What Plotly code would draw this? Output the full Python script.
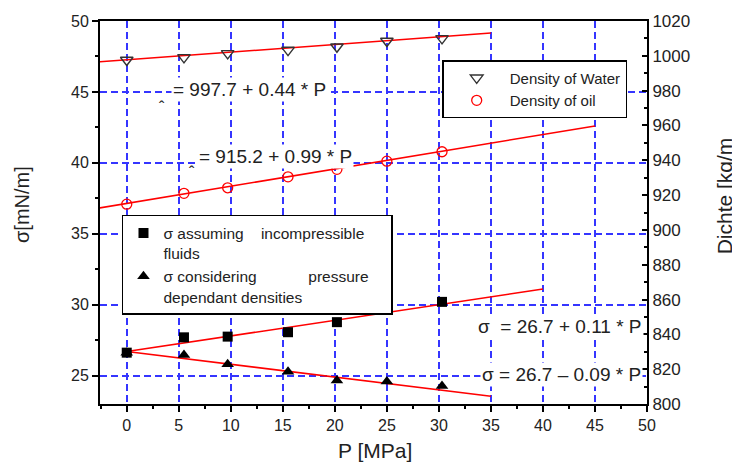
import plotly.graph_objects as go

# ---- data ----
P = [0, 5.5, 9.7, 15.5, 20.2, 25, 30.3]
rho_water = [997.6, 999.1, 1001.4, 1003.3, 1005.2, 1008.5, 1010.0]
rho_oil = [914.8, 921.0, 924.2, 930.5, 934.8, 939.5, 944.9]
P_sigma_inc = [0, 5.5, 9.7, 15.5, 20.2, 30.3]
sigma_inc = [26.62, 27.7, 27.75, 28.06, 28.77, 30.2]
sigma_pd = [26.62, 26.46, 25.8, 25.28, 24.65, 24.58, 24.27]

# fit coefficients (intercept, slope) and drawn P-ranges
fit_water = (997.7, 0.44); fit_water_P = [-3, 35]
fit_oil = (915.2, 0.99); fit_oil_P = [-3, 45]
fit_inc = (26.7, 0.11); fit_inc_P = [0, 40]
fit_pd = (26.7, -0.09); fit_pd_P = [0, 35]

x_ticks = [0, 5, 10, 15, 20, 25, 30, 35, 40, 45, 50]
y_ticks = [25, 30, 35, 40, 45, 50]
y2_ticks = [800, 820, 840, 860, 880, 900, 920, 940, 960, 980, 1000, 1020]

FONT = "Liberation Sans, Arial, sans-serif"
GRID = "#3535ff"
NB = "\u00a0"

def line_y(coef, xs):
    return [coef[0] + coef[1] * x for x in xs]

fig = go.Figure()

# fit lines
for xs, coef, ax in [(fit_water_P, fit_water, "y2"), (fit_oil_P, fit_oil, "y2"),
                     (fit_inc_P, fit_inc, "y"), (fit_pd_P, fit_pd, "y")]:
    fig.add_trace(go.Scatter(x=xs, y=line_y(coef, xs), mode="lines", yaxis=ax,
                             line=dict(color="red", width=1.5), showlegend=False,
                             hoverinfo="skip"))

# density data (right axis)
fig.add_trace(go.Scatter(x=P, y=rho_water, mode="markers", yaxis="y2",
                         name="Density of Water", legend="legend",
                         marker=dict(symbol="triangle-down-open", size=11, color="#333",
                                     line=dict(width=1.4))))
fig.add_trace(go.Scatter(x=P, y=rho_oil, mode="markers", yaxis="y2",
                         name="Density of oil", legend="legend",
                         marker=dict(symbol="circle-open", size=10, color="red",
                                     line=dict(width=1.3))))

# sigma data (left axis)
fig.add_trace(go.Scatter(x=P_sigma_inc, y=sigma_inc, mode="markers", yaxis="y",
                         name="σ assuming" + NB * 4 + "incompressible" + NB * 5 + "<br>fluids",
                         legend="legend2",
                         marker=dict(symbol="square", size=10, color="black")))
fig.add_trace(go.Scatter(x=P, y=sigma_pd, mode="markers", yaxis="y",
                         name="σ considering" + NB * 12 + "pressure<br>dependant densities",
                         legend="legend2",
                         marker=dict(symbol="triangle-up", size=11, color="black")))

ann_font = dict(family=FONT, size=19, color="#222")
annotations = [
    dict(x=11.8, y=45.2, xref="x", yref="y", text="= 997.7 + 0.44 * P",
         showarrow=False, font=ann_font, bgcolor="white"),
    dict(x=3.4, y=43.9, xref="x", yref="y", text="ˆ", showarrow=False,
         font=dict(family=FONT, size=16, color="#222")),
    dict(x=14.3, y=40.45, xref="x", yref="y", text="= 915.2 + 0.99 * P",
         showarrow=False, font=ann_font, bgcolor="white"),
    dict(x=6.3, y=39.3, xref="x", yref="y", text="ˆ", showarrow=False,
         font=dict(family=FONT, size=16, color="#222")),
    dict(x=41.6, y=28.43, xref="x", yref="y", text="σ" + NB * 2 + "= 26.7 + 0.11 * P",
         showarrow=False, font=ann_font, bgcolor="white"),
    dict(x=41.8, y=25.05, xref="x", yref="y", text="σ = 26.7 – 0.09 * P",
         showarrow=False, font=ann_font, bgcolor="white"),
    # axis titles
    dict(x=-0.1427, y=0.522, xref="paper", yref="paper", text="σ[mN/m]",
         xanchor="center", yanchor="middle",
         textangle=-90, showarrow=False, font=dict(family=FONT, size=20, color="#222")),
    dict(x=1.166, y=0.543, xref="paper", yref="paper", text="Dichte [kg/m",
         xanchor="right", yanchor="middle",
         textangle=-90, showarrow=False, font=dict(family=FONT, size=21, color="#222")),
    dict(x=0.503, y=-0.122, xref="paper", yref="paper", text="P [MPa]",
         xanchor="center", yanchor="middle",
         showarrow=False, font=dict(family=FONT, size=21, color="#222")),
]

tickfont = dict(family=FONT, size=16, color="#222")

fig.update_layout(
    width=732, height=455,
    margin=dict(l=92, r=93, t=13, b=59, autoexpand=False),
    paper_bgcolor="white", plot_bgcolor="white",
    font=dict(family=FONT, color="#222"),
    xaxis=dict(range=[-2.57, 50], tickvals=x_ticks, ticks="outside", ticklen=6,
               tickwidth=1.5, tickcolor="black", automargin=False,
               minor=dict(dtick=2.5, tick0=0, ticks="outside", ticklen=3, tickcolor="black"),
               showgrid=True, gridcolor=GRID, griddash="7px,4px", gridwidth=1.5,
               showline=True, linecolor="black", linewidth=2, mirror=True,
               zeroline=False, tickfont=tickfont),
    yaxis=dict(range=[23, 50], tickvals=y_ticks, ticks="outside", ticklen=6,
               tickwidth=1.5, tickcolor="black", automargin=False,
               minor=dict(dtick=2.5, tick0=0, ticks="outside", ticklen=3, tickcolor="black"),
               showgrid=True, gridcolor=GRID, griddash="7px,4px", gridwidth=1.5,
               showline=True, linecolor="black", linewidth=2,
               zeroline=False, tickfont=tickfont),
    yaxis2=dict(range=[800, 1020], tickvals=y2_ticks, overlaying="y", side="right",
                ticks="inside", ticklen=5, tickwidth=1.5, tickcolor="black", automargin=False,
                minor=dict(dtick=10, tick0=0, ticks="inside", ticklen=3, tickcolor="black"),
                showgrid=False, showline=True, linecolor="black", linewidth=2,
                zeroline=False, tickfont=dict(family=FONT, size=17, color="#222")),
    legend=dict(x=0.6256, y=0.898, xanchor="left", yanchor="top", itemwidth=56,
                bgcolor="white", bordercolor="black", borderwidth=1.5,
                font=dict(family=FONT, size=15, color="#222"), tracegroupgap=0),
    legend2=dict(x=0.0402, y=0.4935, xanchor="left", yanchor="top", valign="top",
                 bgcolor="white", bordercolor="black", borderwidth=1.5,
                 font=dict(family=FONT, size=15.5, color="#222"), tracegroupgap=0),
    annotations=annotations,
    showlegend=True,
)

fig.write_html("out.html")
